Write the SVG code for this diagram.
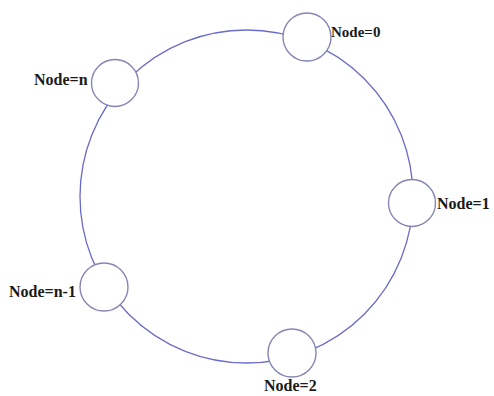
<svg xmlns="http://www.w3.org/2000/svg" width="494" height="396" viewBox="0 0 494 396">
<style>
.ring{fill:none;stroke:#6a6ac8;stroke-width:1.3}
.node{fill:#ffffff;stroke:#8585b5;stroke-width:1.4}
.lbl{font-family:"Liberation Serif",serif;font-weight:bold;font-size:16px;fill:#1a1a1a}
</style>
<rect width="494" height="396" fill="#ffffff"/>
<g id="connectors">
<circle class="ring" cx="246.5" cy="196.5" r="166.5"/>
</g>
<g id="node0"><circle class="node" cx="307" cy="37" r="24"/><text class="lbl" x="331" y="37" style="font-size:15px">Node=0</text></g>
<g id="node1"><circle class="node" cx="412" cy="203" r="23.5"/><text class="lbl" x="437" y="209">Node=1</text></g>
<g id="node2"><circle class="node" cx="292" cy="353" r="24"/><text class="lbl" x="264" y="391">Node=2</text></g>
<g id="nodeN1"><circle class="node" cx="104" cy="287" r="24"/><text class="lbl" x="9" y="297">Node=n-1</text></g>
<g id="nodeN"><circle class="node" cx="115" cy="83" r="23.5"/><text class="lbl" x="34" y="85">Node=n</text></g>
</svg>
